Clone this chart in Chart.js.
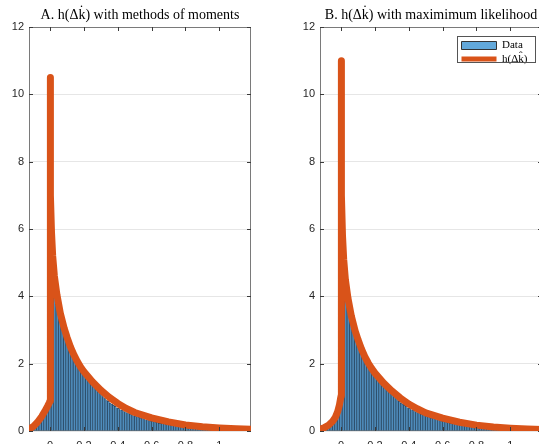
<!DOCTYPE html>
<html><head><meta charset="utf-8">
<script src="https://cdn.jsdelivr.net/npm/chart.js@4/dist/chart.umd.min.js"></script>
<style>
html,body{margin:0;padding:0;width:539px;height:444px;overflow:hidden;background:#fff;}
.panel{position:absolute;top:0;height:470px;}
#wa{left:0;width:251px;}
#wb{left:291px;width:251px;}
</style></head><body>
<div class="panel" id="wa"><canvas id="ca"></canvas></div>
<div class="panel" id="wb"><canvas id="cb"></canvas></div>
<script>
const panelTitles = ['A. h(\u0394k\u0307) with methods of moments', 'B. h(\u0394k\u0307) with maximimum likelihood'];
const seriesLabels = ['Data', 'h(\u0394k\u0302)'];
const yTicks = [0, 2, 4, 6, 8, 10, 12];
const xTicks = [0, 0.2, 0.4, 0.6, 0.8, 1];

const binCenters = [
 -0.115,-0.105,-0.095,-0.085,-0.075,-0.065,-0.055,-0.045,-0.035,-0.025,-0.015,-0.005,
 0.005,0.015,0.025,0.035,0.045,0.055,0.065,0.075,0.085,0.095,
 0.105,0.115,0.125,0.135,0.145,0.155,0.165,0.175,0.185,0.195,
 0.205,0.215,0.225,0.235,0.245,0.255,0.265,0.275,0.285,0.295,
 0.305,0.315,0.325,0.335,0.345,0.355,0.365,0.375,0.385,0.395,
 0.405,0.415,0.425,0.435,0.445,0.455,0.465,0.475,0.485,0.495,
 0.505,0.515,0.525,0.535,0.545,0.555,0.565,0.575,0.585,0.595,
 0.605,0.615,0.625,0.635,0.645,0.655,0.665,0.675,0.685,0.695,
 0.705,0.715,0.725,0.735,0.745,0.755,0.765,0.775,0.785,0.795,
 0.805,0.815,0.825,0.835,0.845,0.855,0.865,0.875,0.885,0.895,
 0.905,0.915,0.925,0.935,0.945,0.955,0.965,0.975,0.985,0.995,
 1.005,1.015,1.025,1.035,1.045,1.055,1.065,1.075,1.085,1.095,
 1.105,1.115,1.125,1.135,1.145,1.155,1.165,1.175,1.185
];
const binHeights = [
 0.07,0.09,0.11,0.15,0.19,0.23,0.30,0.36,0.45,0.55,0.66,0.82,
 4.25,4.12,3.98,3.76,3.58,3.37,3.18,3.02,2.85,2.72,
 2.58,2.47,2.34,2.24,2.13,2.05,1.95,1.88,1.78,1.72,
 1.63,1.58,1.50,1.46,1.39,1.34,1.28,1.23,1.17,1.11,
 1.05,0.99,0.96,0.90,0.88,0.83,0.80,0.76,0.73,0.69,
 0.67,0.63,0.62,0.58,0.57,0.54,0.52,0.50,0.48,0.45,
 0.44,0.42,0.41,0.38,0.37,0.36,0.33,0.33,0.31,0.29,
 0.29,0.27,0.26,0.25,0.23,0.23,0.21,0.21,0.20,0.18,
 0.18,0.17,0.16,0.155,0.15,0.14,0.13,0.125,0.12,0.11,
 0.105,0.10,0.094,0.09,0.086,0.08,0.077,0.072,0.07,0.066,
 0.062,0.06,0.055,0.053,0.05,0.048,0.045,0.043,0.04,0.038,
 0.036,0.034,0.033,0.031,0.03,0.028,0.027,0.026,0.024,0.023,
 0.022,0.021,0.02,0.019,0.018,0.017,0.017,0.016,0.015
];

const fitAX = [-0.125,-0.1,-0.075,-0.05,-0.03,-0.015,-0.005,0,0,0.003,0.008,0.015,0.025,0.04,0.06,0.083,0.1,0.12,0.14,0.16,0.18,0.2,0.25,0.3,0.35,0.4,0.45,0.5,0.6,0.7,0.8,0.9,1.0,1.1,1.1875];
const fitAY = [0.06,0.13,0.26,0.43,0.6,0.74,0.84,0.9,10.5,7.0,5.9,5.2,4.6,4.05,3.5,3.05,2.78,2.5,2.27,2.07,1.9,1.76,1.46,1.21,1.0,0.82,0.67,0.55,0.39,0.27,0.18,0.125,0.09,0.065,0.05];

const fitBX = [-0.125,-0.1,-0.075,-0.05,-0.035,-0.02,-0.01,-0.004,0,0,0.003,0.008,0.015,0.025,0.04,0.06,0.083,0.1,0.12,0.14,0.16,0.18,0.2,0.25,0.3,0.35,0.4,0.45,0.5,0.6,0.7,0.8,0.9,1.0,1.1,1.1875];
const fitBY = [0.05,0.1,0.17,0.29,0.4,0.58,0.78,0.95,1.05,11.0,7.0,5.8,5.1,4.5,3.95,3.42,2.97,2.71,2.44,2.21,2.02,1.86,1.72,1.43,1.19,0.98,0.8,0.66,0.54,0.38,0.26,0.175,0.12,0.085,0.06,0.045];

const ORANGE = '#D95319';
const AXIS = '#7a7a7a';
const TICKC = '#262626';

const framePlugin = {
  id: 'frame',
  beforeDatasetsDraw(chart) {
    const {ctx, chartArea: a} = chart;
    ctx.save();
    ctx.strokeStyle = AXIS; ctx.lineWidth = 1;
    const l = Math.round(a.left) + 0.5, t = Math.round(a.top) + 0.5;
    const r = Math.round(a.right) - 0.5, b = Math.round(a.bottom) - 0.5;
    ctx.strokeRect(l, t, r - l, b - t);
    ctx.restore();
  },
  afterDraw(chart) {
    const {ctx, chartArea: a, scales} = chart;
    const L = 4;
    ctx.save();
    ctx.strokeStyle = '#3a3a3a'; ctx.lineWidth = 1;
    ctx.beginPath();
    scales.x.ticks.forEach(tk => {
      const px = Math.round(scales.x.getPixelForValue(tk.value)) + 0.5;
      ctx.moveTo(px, a.bottom); ctx.lineTo(px, a.bottom - L);
      ctx.moveTo(px, a.top); ctx.lineTo(px, a.top + L);
    });
    scales.y.ticks.forEach(tk => {
      const py = Math.round(scales.y.getPixelForValue(tk.value)) + 0.5;
      ctx.moveTo(a.left, py); ctx.lineTo(a.left + L, py);
      ctx.moveTo(a.right, py); ctx.lineTo(a.right - L, py);
    });
    ctx.stroke();
    const lg = chart.legend;
    if (lg && lg.options.display) {
      ctx.strokeStyle = '#555';
      ctx.strokeRect(Math.round(lg.left) - 1.5, Math.round(lg.top) - 1.5, 78, 26);
    }
    ctx.restore();
  },
  afterLayout(chart) {
    const lg = chart.legend;
    if (lg && lg.options.display) {
      const a = chart.chartArea;
      lg.left = Math.round(a.right) - 83; lg.right = lg.left + 90;
      lg.top = a.top + 10.5; lg.bottom = lg.top + 80;
    }
  }
};

function makeChart(id, fx, fy, idx) {
  const showLegend = idx === 1;
  return new Chart(document.getElementById(id), {
    type: 'bar',
    data: {
      datasets: [
        {
          type: 'bar', label: seriesLabels[0], order: 1,
          data: binCenters.map((c, i) => ({x: c, y: binHeights[i]})),
          backgroundColor: '#4f8dbd', borderColor: '#18293a',
          borderWidth: {left: 0.45, right: 0.45, top: 0.45, bottom: 0},
          barPercentage: 1, categoryPercentage: 1, grouped: false
        },
        {
          type: 'line', label: seriesLabels[1], order: 0,
          data: fx.map((x, i) => ({x: x, y: fy[i]})),
          borderColor: ORANGE, backgroundColor: ORANGE, borderWidth: 7,
          pointRadius: 0, fill: false, tension: 0,
          borderJoinStyle: 'round', borderCapStyle: 'round'
        }
      ]
    },
    options: {
      responsive: true, maintainAspectRatio: false, animation: false,
      devicePixelRatio: 1, events: [],
      layout: {padding: 0},
      scales: {
        x: {
          type: 'linear', min: -0.125, max: 1.1875, offset: false,
          afterBuildTicks: s => { s.ticks = xTicks.map(v => ({value: v})); },
          afterFit: s => { s.height = 39; },
          grid: {display: false, drawTicks: false, offset: false},
          border: {display: false},
          ticks: {padding: 8, maxRotation: 0, autoSkip: false, color: TICKC,
                  font: {family: 'Liberation Sans', size: 11}, callback: v => String(v)}
        },
        y: {
          min: 0, max: 12,
          afterBuildTicks: s => { s.ticks = yTicks.map(v => ({value: v})); },
          afterFit: s => { s.width = 29; },
          grid: {color: '#e6e6e6', drawTicks: false, lineWidth: 1},
          border: {display: false},
          ticks: {padding: 5, color: TICKC, font: {family: 'Liberation Sans', size: 11}}
        }
      },
      plugins: {
        tooltip: {enabled: false},
        title: {
          display: true, text: panelTitles[idx], fullSize: false, color: '#000',
          font: {family: 'Liberation Serif', size: 14, weight: 'normal', lineHeight: 1.2},
          padding: {top: 6.5, bottom: 3.7}
        },
        legend: {
          display: showLegend, position: 'chartArea', align: 'start',
          labels: {
            usePointStyle: true, pointStyleWidth: 35, boxHeight: 8, padding: 2.5,
            color: '#000', font: {family: 'Liberation Serif', size: 11},
            generateLabels(chart) {
              const items = Chart.defaults.plugins.legend.labels.generateLabels(chart);
              items.forEach(it => {
                if (it.datasetIndex === 0) {
                  it.pointStyle = 'rect'; it.fillStyle = '#62a8da'; it.strokeStyle = '#333'; it.lineWidth = 1;
                } else {
                  it.pointStyle = 'line'; it.strokeStyle = ORANGE; it.fillStyle = ORANGE; it.lineWidth = 5;
                }
              });
              return items.sort((p, q) => p.datasetIndex - q.datasetIndex);
            }
          }
        }
      }
    },
    plugins: [framePlugin]
  });
}

makeChart('ca', fitAX, fitAY, 0);
makeChart('cb', fitBX, fitBY, 1);
</script>
</body></html>
